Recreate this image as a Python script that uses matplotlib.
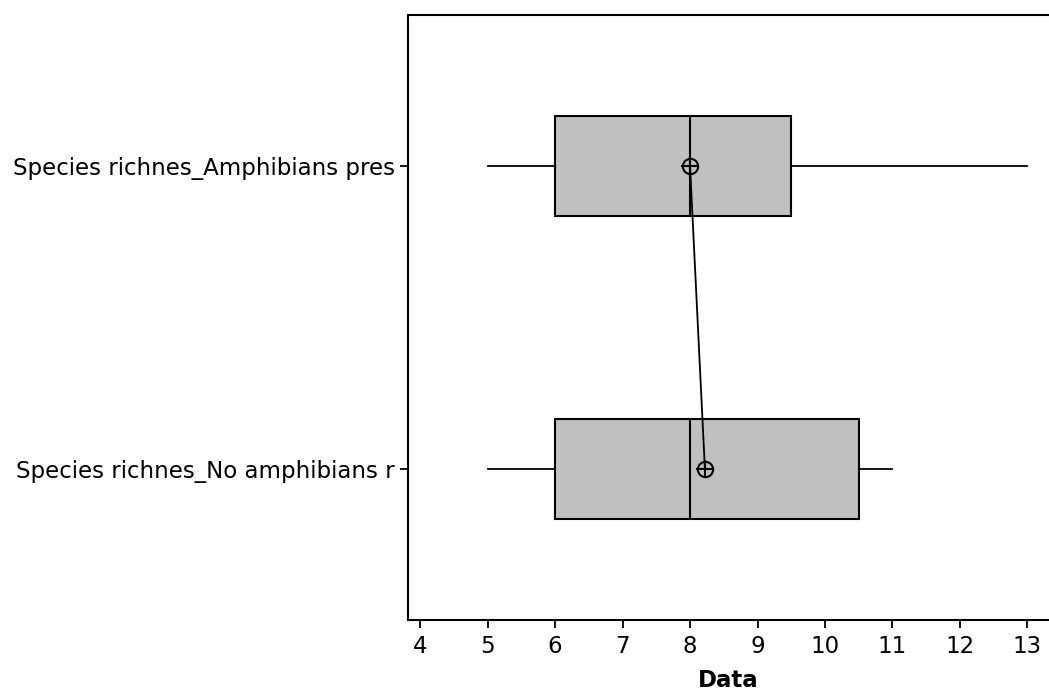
import matplotlib
matplotlib.use("Agg")
import matplotlib.pyplot as plt

plt.rcParams["font.family"] = "DejaVu Sans"

# groups, bottom to top
groups = ["Species richnes_No amphibians r", "Species richnes_Amphibians pres"]
wlo = [5, 5]
q1 = [6, 6]
med = [8, 8]
q3 = [10.5, 9.5]
whi = [11, 13]
means = [8.22, 8.0]

stats = [dict(label=g, whislo=a, q1=b, med=c, q3=d, whishi=e, fliers=[])
         for g, a, b, c, d, e in zip(groups, wlo, q1, med, q3, whi)]

fig = plt.figure(figsize=(10.49, 6.91), dpi=100)
ax = fig.add_axes([408 / 1049, 1 - 620 / 691, 1 - 408 / 1049, 605 / 691])

pos = [1, 2]
ax.bxp(stats, positions=pos, vert=False, widths=0.33, patch_artist=True,
       showcaps=False,
       boxprops=dict(facecolor="#c0c0c0", edgecolor="black", linewidth=1.5),
       medianprops=dict(color="black", linewidth=1.5),
       whiskerprops=dict(color="black", linewidth=1.3))

ax.plot(means, pos, color="black", lw=1.3, zorder=4)
ax.plot(means, pos, ls="none", marker="o", ms=11, mfc="none", mec="black",
        mew=1.5, zorder=5)
ax.plot(means, pos, ls="none", marker="+", ms=13, mec="black", mew=1.5, zorder=5)

ax.set_xlim(3.82, 13.32)
ax.set_ylim(0.5, 2.5)
ax.set_xticks(range(4, 14))
ax.set_yticks(pos)
ax.set_yticklabels(groups)
ax.spines["right"].set_visible(False)
for s in ("left", "top", "bottom"):
    ax.spines[s].set_linewidth(1.5)
ax.tick_params(labelsize=16.5, width=1.3, length=6)
ax.tick_params(axis="x", pad=5)
ax.set_xlabel("Data", fontsize=16.5, fontweight="bold", labelpad=8)

fig.savefig("out.png", dpi=100)
